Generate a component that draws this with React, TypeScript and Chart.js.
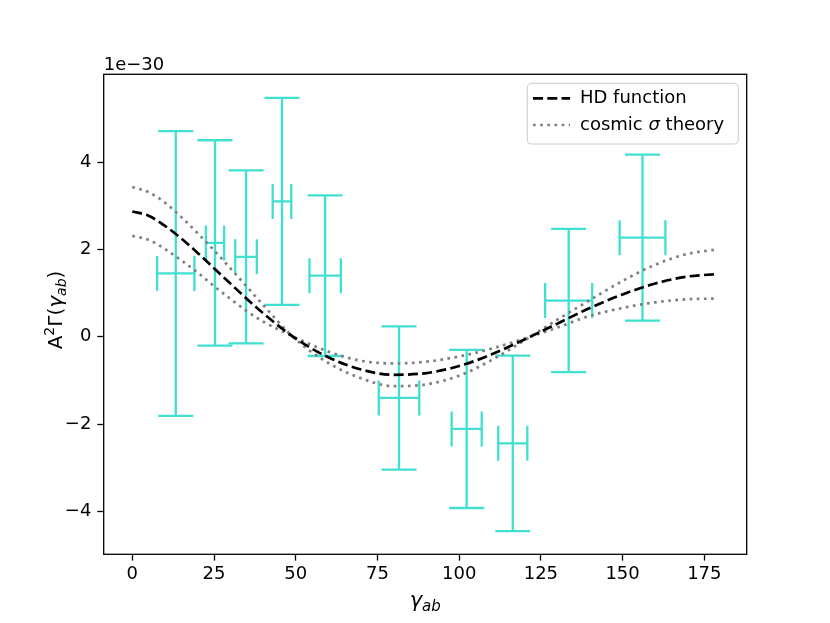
import React, { useEffect, useRef } from 'react';
import Chart from 'chart.js/auto';

// binned cross-correlations, values are in units of 1e-30
const binAngles = [13.3, 25.3, 34.8, 45.8, 59.0, 81.6, 102.3, 116.4, 133.5, 156.1];
const binValues = [1.45, 2.15, 1.83, 3.1, 1.4, -1.4, -2.11, -2.44, 0.83, 2.27];
const binAngleErr = [5.7, 2.8, 3.3, 2.85, 4.8, 6.2, 4.6, 4.45, 7.2, 7.0];
const binValueErr = [3.26, 2.35, 1.98, 2.37, 1.84, 1.64, 1.81, 2.01, 1.64, 1.9];

// theory curves
const curveAngles = [0, 5, 10, 15, 20, 25, 30, 35, 40, 50, 60, 70, 80, 90, 100, 110, 120, 130, 140, 150, 160, 170, 179];
const hdCurve = [2.87, 2.77, 2.54, 2.25, 1.92, 1.57, 1.22, 0.87, 0.54, -0.04, -0.47, -0.75, -0.87, -0.83, -0.67, -0.4, -0.06, 0.3, 0.66, 0.97, 1.22, 1.38, 1.435];
const sigmaUpper = [3.43, 3.31, 3.07, 2.74, 2.37, 1.98, 1.57, 1.15, 0.73, -0.06, -0.6, -0.95, -1.13, -1.09, -0.89, -0.53, -0.08, 0.39, 0.84, 1.28, 1.65, 1.9, 2.0];
const sigmaLower = [2.31, 2.22, 2.01, 1.75, 1.47, 1.16, 0.87, 0.59, 0.35, -0.02, -0.34, -0.55, -0.61, -0.57, -0.45, -0.27, -0.04, 0.21, 0.48, 0.66, 0.79, 0.86, 0.875];

const xTicks = [0, 25, 50, 75, 100, 125, 150, 175];
const yTicks = [-4, -2, 0, 2, 4];

const FONT = 'DejaVu Sans';
const TURQ = '#40e0d0';

const toPoints = (xs: number[], ys: number[]) => xs.map((x, i) => ({ x, y: ys[i] }));
const fmtTick = (v: number | string) => {
  const n = Number(v);
  return n < 0 ? '\u2212' + Math.abs(n) : String(n);
};

type Run = { text: string; size: number; italic?: boolean; dy?: number };

const runFont = (r: Run) => `${r.italic ? 'oblique ' : ''}${r.size}px "${FONT}"`;
const runsWidth = (ctx: CanvasRenderingContext2D, runs: Run[]) =>
  runs.reduce((w, r) => {
    ctx.font = runFont(r);
    return w + ctx.measureText(r.text).width;
  }, 0);
const drawRuns = (ctx: CanvasRenderingContext2D, runs: Run[], x: number, y: number) => {
  let cx = x;
  runs.forEach(r => {
    ctx.font = runFont(r);
    ctx.fillText(r.text, cx, y + (r.dy || 0));
    cx += ctx.measureText(r.text).width;
  });
};

const errorBars = {
  id: 'errorBars',
  beforeDatasetsDraw(chart: any) {
    const { ctx, scales } = chart;
    const xs = scales.x;
    const ys = scales.y;
    const cap = 17.5;
    ctx.save();
    ctx.strokeStyle = TURQ;
    ctx.lineWidth = 2.3;
    binAngles.forEach((a, i) => {
      const cx = xs.getPixelForValue(a);
      const cy = ys.getPixelForValue(binValues[i]);
      const x0 = xs.getPixelForValue(a - binAngleErr[i]);
      const x1 = xs.getPixelForValue(a + binAngleErr[i]);
      const y0 = ys.getPixelForValue(binValues[i] + binValueErr[i]);
      const y1 = ys.getPixelForValue(binValues[i] - binValueErr[i]);
      ctx.beginPath();
      ctx.moveTo(x0, cy); ctx.lineTo(x1, cy);
      ctx.moveTo(cx, y0); ctx.lineTo(cx, y1);
      ctx.moveTo(cx - cap, y0); ctx.lineTo(cx + cap, y0);
      ctx.moveTo(cx - cap, y1); ctx.lineTo(cx + cap, y1);
      ctx.moveTo(x0, cy - cap); ctx.lineTo(x0, cy + cap);
      ctx.moveTo(x1, cy - cap); ctx.lineTo(x1, cy + cap);
      ctx.stroke();
    });
    ctx.restore();
  },
};

const decor = {
  id: 'decor',
  afterDraw(chart: any) {
    const { ctx, chartArea: a } = chart;
    ctx.save();
    // frame
    ctx.strokeStyle = '#000';
    ctx.lineWidth = 1.3;
    ctx.strokeRect(a.left, a.top, a.right - a.left, a.bottom - a.top);

    ctx.fillStyle = '#000';
    ctx.textBaseline = 'alphabetic';
    // offset text
    ctx.font = `18px "${FONT}"`;
    ctx.textAlign = 'left';
    ctx.fillText('1e\u221230', a.left, 70);

    // x label
    const xl: Run[] = [
      { text: '\u03b3', size: 21, italic: true },
      { text: 'ab', size: 15, italic: true, dy: 4.5 },
    ];
    drawRuns(ctx, xl, (a.left + a.right) / 2 - runsWidth(ctx, xl) / 2, 606.5);

    // y label
    const yl: Run[] = [
      { text: 'A', size: 20 },
      { text: '2', size: 14, dy: -8 },
      { text: '\u0393(', size: 20 },
      { text: '\u03b3', size: 20, italic: true },
      { text: 'ab', size: 14, italic: true, dy: 4 },
      { text: ')', size: 20 },
    ];
    ctx.save();
    ctx.translate(61.7, 310);
    ctx.rotate(-Math.PI / 2);
    drawRuns(ctx, yl, -runsWidth(ctx, yl) / 2, 0);
    ctx.restore();

    // legend
    const lx = 527.3, ly = 83.3, lw = 211, lh = 60.7;
    ctx.beginPath();
    ctx.roundRect(lx, ly, lw, lh, 4);
    ctx.fillStyle = 'rgba(255,255,255,0.8)';
    ctx.fill();
    ctx.strokeStyle = '#cccccc';
    ctx.lineWidth = 1;
    ctx.stroke();

    ctx.lineWidth = 2.7;
    ctx.lineCap = 'butt';
    ctx.strokeStyle = '#000';
    ctx.setLineDash([10, 4.3]);
    ctx.beginPath(); ctx.moveTo(533, 98.3); ctx.lineTo(570, 98.3); ctx.stroke();
    ctx.strokeStyle = '#808080';
    ctx.setLineDash([2.7, 4.45]);
    ctx.beginPath(); ctx.moveTo(533, 125); ctx.lineTo(570, 125); ctx.stroke();
    ctx.setLineDash([]);

    ctx.fillStyle = '#000';
    ctx.textBaseline = 'middle';
    drawRuns(ctx, [{ text: 'HD function', size: 18 }], 580, 98.3);
    drawRuns(ctx, [
      { text: 'cosmic ', size: 18 },
      { text: '\u03c3', size: 18, italic: true },
      { text: ' theory', size: 18 },
    ], 580, 125);
    ctx.restore();
  },
};

const HDChart = () => {
  const canvasRef = useRef<HTMLCanvasElement | null>(null);

  useEffect(() => {
    if (!canvasRef.current) return;
    const tickFont = { family: FONT, size: 18 };
    const gridOpts = {
      display: true,
      drawOnChartArea: false,
      drawTicks: true,
      tickLength: 6.3,
      tickWidth: 1.3,
      tickColor: '#000',
    };
    const lineBase = {
      showLine: true,
      pointRadius: 0,
      borderWidth: 2.7,
      borderCapStyle: 'butt' as const,
      cubicInterpolationMode: 'monotone' as const,
      fill: false,
    };
    const chart = new Chart(canvasRef.current, {
      type: 'scatter',
      data: {
        datasets: [
          { ...lineBase, label: 'HD function', data: toPoints(curveAngles, hdCurve), borderColor: '#000', borderDash: [10, 4.3] },
          { ...lineBase, label: 'cosmic \u03c3 theory', data: toPoints(curveAngles, sigmaUpper), borderColor: '#808080', borderDash: [2.7, 4.45] },
          { ...lineBase, label: 'lower', data: toPoints(curveAngles, sigmaLower), borderColor: '#808080', borderDash: [2.7, 4.45] },
        ],
      },
      options: {
        animation: false,
        responsive: false,
        events: [],
        layout: { padding: { left: 0, right: 83.3, top: 74.3, bottom: 0 } },
        plugins: { legend: { display: false }, tooltip: { enabled: false } },
        scales: {
          x: {
            type: 'linear',
            min: -8.75,
            max: 187.97,
            afterBuildTicks: (s: any) => { s.ticks = xTicks.map(v => ({ value: v })); },
            afterFit: (s: any) => { s.height = 68.7; },
            grid: gridOpts,
            border: { display: false },
            ticks: { font: tickFont, color: '#000', padding: 3, maxRotation: 0, autoSkip: false, callback: fmtTick },
          },
          y: {
            type: 'linear',
            min: -4.98,
            max: 6.01,
            afterBuildTicks: (s: any) => { s.ticks = yTicks.map(v => ({ value: v })); },
            afterFit: (s: any) => { s.width = 103.7; },
            grid: gridOpts,
            border: { display: false },
            ticks: { font: tickFont, color: '#000', padding: 6, autoSkip: false, callback: fmtTick },
          },
        },
      },
      plugins: [errorBars, decor],
    });
    return () => chart.destroy();
  }, []);

  return (
    <div style={{ position: 'absolute', left: 0, top: 0, width: 830, height: 623, background: '#fff' }}>
      <canvas ref={canvasRef} width={830} height={623} style={{ display: 'block' }} />
    </div>
  );
};

export default function App() {
  return <HDChart />;
}
